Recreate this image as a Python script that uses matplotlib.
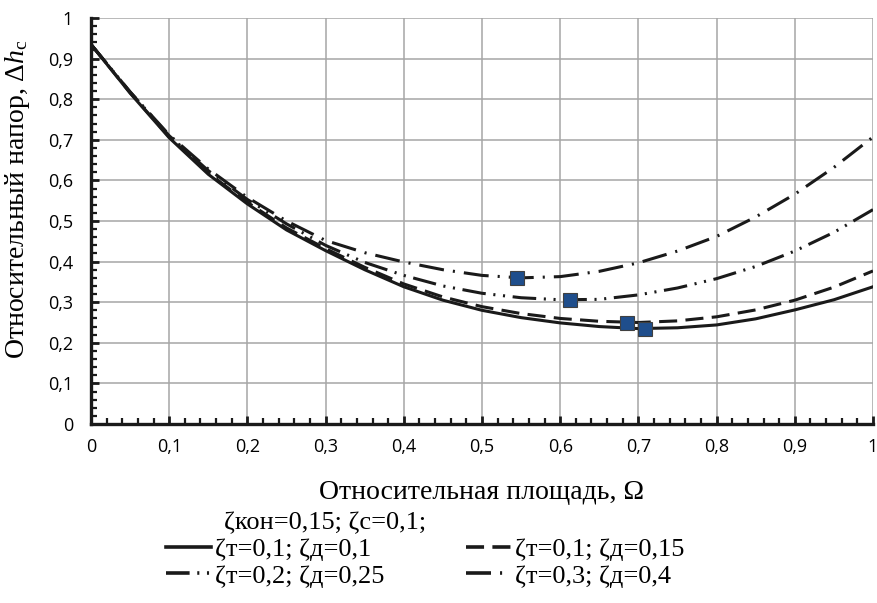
import matplotlib
matplotlib.use('Agg')
import matplotlib.pyplot as plt
from matplotlib.ticker import MultipleLocator, FixedLocator

# Относительная площадь
omega = [0.0, 0.05, 0.1, 0.15, 0.2, 0.25, 0.3, 0.35, 0.4, 0.45, 0.5,
         0.55, 0.6, 0.65, 0.7, 0.75, 0.8, 0.85, 0.9, 0.95, 1.0]

# Относительный напор для четырёх сочетаний ζт / ζд
dh_t01_d01 = [0.935, 0.815, 0.705, 0.615, 0.542, 0.478, 0.427, 0.380, 0.338, 0.305, 0.280,
              0.262, 0.249, 0.240, 0.235, 0.237, 0.244, 0.259, 0.281, 0.306, 0.338]
dh_t01_d015 = [0.935, 0.816, 0.707, 0.618, 0.546, 0.483, 0.432, 0.386, 0.345, 0.313, 0.289,
               0.272, 0.260, 0.253, 0.250, 0.254, 0.264, 0.281, 0.305, 0.337, 0.377]
dh_t02_d025 = [0.935, 0.818, 0.710, 0.624, 0.553, 0.493, 0.440, 0.398, 0.366, 0.340, 0.322,
               0.311, 0.306, 0.307, 0.318, 0.335, 0.358, 0.388, 0.426, 0.472, 0.528]
dh_t03_d04 = [0.935, 0.818, 0.712, 0.628, 0.558, 0.500, 0.452, 0.422, 0.399, 0.380, 0.366,
              0.360, 0.363, 0.376, 0.397, 0.426, 0.462, 0.510, 0.566, 0.632, 0.707]

# Точки минимума
min_omega = [0.708, 0.686, 0.6125, 0.545]
min_dh = [0.234, 0.250, 0.305, 0.359]

labels = ['ζт=0,1; ζд=0,1', 'ζт=0,1; ζд=0,15', 'ζт=0,2; ζд=0,25', 'ζт=0,3; ζд=0,4']
x_ticks = [0, 0.1, 0.2, 0.3, 0.4, 0.5, 0.6, 0.7, 0.8, 0.9, 1.0]
x_ticklabels = ['0', '0,1', '0,2', '0,3', '0,4', '0,5', '0,6', '0,7', '0,8', '0,9', '1']
y_ticks = [0, 0.1, 0.2, 0.3, 0.4, 0.5, 0.6, 0.7, 0.8, 0.9, 1.0]
y_ticklabels = ['0', '0,1', '0,2', '0,3', '0,4', '0,5', '0,6', '0,7', '0,8', '0,9', '1']

plt.rcParams['lines.scale_dashes'] = False
plt.rcParams['mathtext.fontset'] = 'custom'
plt.rcParams['mathtext.rm'] = 'Liberation Serif'
plt.rcParams['mathtext.it'] = 'Liberation Serif:italic'

serif = 'Liberation Serif'
sans = 'Open Sans'

fig = plt.figure(figsize=(8.78, 6.03), dpi=100)
ax = fig.add_axes([91 / 878, 1 - 424 / 603, 782 / 878, 406 / 603])

styles = ['-', (0, (13, 6)), (0, (17, 5.5, 1.5, 5.5, 1.5, 5.5)), (0, (18, 6.5, 1.5, 6.5))]
series = [dh_t01_d01, dh_t01_d015, dh_t02_d025, dh_t03_d04]
lines = []
for ys, ls, lab in zip(series, styles, labels):
    ln, = ax.plot(omega, ys, color='#1a1a1a', lw=2.2, linestyle=ls, label=lab,
                  dash_capstyle='butt', zorder=3)
    lines.append(ln)

ax.plot(min_omega, min_dh, linestyle='none', marker='s', markersize=10,
        markerfacecolor='#1F4E8C', markeredgecolor='#404040', markeredgewidth=0.8, zorder=4)

ax.set_xlim(0, 1)
ax.set_ylim(0, 1)
ax.xaxis.set_major_locator(FixedLocator(x_ticks))
ax.yaxis.set_major_locator(FixedLocator(y_ticks))
ax.set_xticklabels(x_ticklabels, fontfamily=sans, fontsize=13)
ax.set_yticklabels(y_ticklabels, fontfamily=sans, fontsize=13)
ax.xaxis.set_minor_locator(MultipleLocator(0.02))
ax.yaxis.set_minor_locator(MultipleLocator(0.02))
ax.tick_params(which='major', direction='in', length=6, width=2, color='#1a1a1a', pad=10)
ax.tick_params(which='minor', direction='in', length=4, width=1.6, color='#1a1a1a')
ax.tick_params(axis='y', pad=13)

ax.grid(True, which='major', color='#a6a6a6', lw=1.1, zorder=0)
ax.set_axisbelow(True)
for side in ['top', 'right']:
    ax.spines[side].set_visible(False)
for side in ['left', 'bottom']:
    ax.spines[side].set_linewidth(2.4)
    ax.spines[side].set_color('#1a1a1a')
    ax.spines[side].set_zorder(5)

# подписи осей
fig.text(482 / 878, 1 - 499 / 603, 'Относительная площадь, Ω', fontfamily=serif,
         fontsize=20, ha='center', va='baseline')
fig.text(18 / 878, 1 - 199 / 603, 'Относительный напор, $\\Delta h_\\mathrm{c}$',
         fontfamily=serif, fontsize=20, rotation=90, ha='center', va='center')

fig.text(224 / 878, 1 - 523 / 603, 'ζкон=0,15; ζс=0,1;', fontfamily=serif, fontsize=19,
         ha='left', va='center')

# легенда заполняется по столбцам, поэтому порядок переставлен для построчного вывода
order = [0, 2, 1, 3]
leg = fig.legend(handles=[lines[i] for i in order], labels=[labels[i] for i in order],
                 loc='upper left', ncol=2,
                 bbox_to_anchor=(166 / 878, 1 - 538 / 603), frameon=False,
                 prop={'family': serif, 'size': 19}, handlelength=1.7, handletextpad=0.15,
                 columnspacing=3.1, labelspacing=0.1, borderpad=0, borderaxespad=0)
for h in leg.get_lines():
    h.set_linewidth(2.6)

fig.savefig('out.png', dpi=100)
